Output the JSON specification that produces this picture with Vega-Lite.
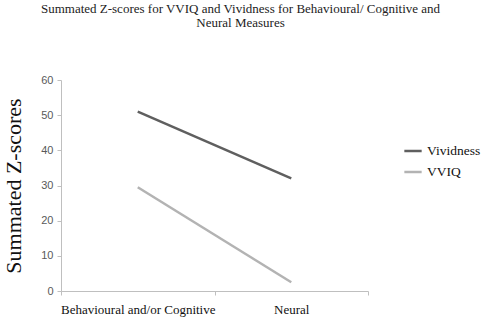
{
  "$schema": "https://vega.github.io/schema/vega-lite/v6.json",
  "width": 307,
  "height": 211,
  "autosize": {"type": "none"},
  "padding": {"left": 61, "top": 80, "right": 113, "bottom": 27},
  "background": "white",
  "title": {
    "text": ["Summated Z-scores for VVIQ and Vividness for Behavioural/ Cognitive and", "Neural Measures"],
    "font": "Liberation Serif",
    "fontSize": 13,
    "fontWeight": "normal",
    "color": "#222222",
    "anchor": "middle",
    "dx": 26,
    "offset": 44,
    "lineHeight": 14
  },
  "config": {
    "view": {"stroke": null}
  },
  "data": {
    "values": [
      {"measure": "Behavioural and/or Cognitive", "series": "Vividness", "score": 51},
      {"measure": "Neural", "series": "Vividness", "score": 32},
      {"measure": "Behavioural and/or Cognitive", "series": "VVIQ", "score": 29.5},
      {"measure": "Neural", "series": "VVIQ", "score": 2.5}
    ]
  },
  "mark": {"type": "line", "strokeWidth": 2.5},
  "encoding": {
    "x": {
      "field": "measure",
      "type": "nominal",
      "sort": ["Behavioural and/or Cognitive", "Neural"],
      "scale": {"paddingInner": 0, "paddingOuter": 0},
      "axis": {
        "title": null,
        "labelAngle": 0,
        "labelFont": "Liberation Serif",
        "labelFontSize": 13,
        "labelColor": "#111111",
        "labelPadding": 8,
        "domainColor": "#bfbfbf",
        "tickColor": "#bfbfbf",
        "tickSize": 4,
        "tickBand": "extent"
      }
    },
    "y": {
      "field": "score",
      "type": "quantitative",
      "scale": {"domain": [0, 60], "nice": false},
      "axis": {
        "values": [0, 10, 20, 30, 40, 50, 60],
        "title": "Summated Z-scores",
        "titleFont": "Liberation Serif",
        "titleFontSize": 22,
        "titleFontWeight": "normal",
        "titleColor": "#111111",
        "titlePadding": 15,
        "labelFont": "Liberation Sans",
        "labelFontSize": 11,
        "labelColor": "#595959",
        "labelPadding": 4,
        "domainColor": "#bfbfbf",
        "tickColor": "#bfbfbf",
        "tickSize": 4,
        "grid": false
      }
    },
    "color": {
      "field": "series",
      "type": "nominal",
      "scale": {"domain": ["Vividness", "VVIQ"], "range": ["#5f5f5f", "#b3b3b3"]},
      "legend": {
        "title": null,
        "orient": "none",
        "legendX": 342,
        "legendY": 61,
        "symbolType": "stroke",
        "symbolSize": 300,
        "symbolStrokeWidth": 2.5,
        "labelFont": "Liberation Serif",
        "labelFontSize": 13.5,
        "labelColor": "#111111",
        "rowPadding": 4
      }
    }
  }
}
